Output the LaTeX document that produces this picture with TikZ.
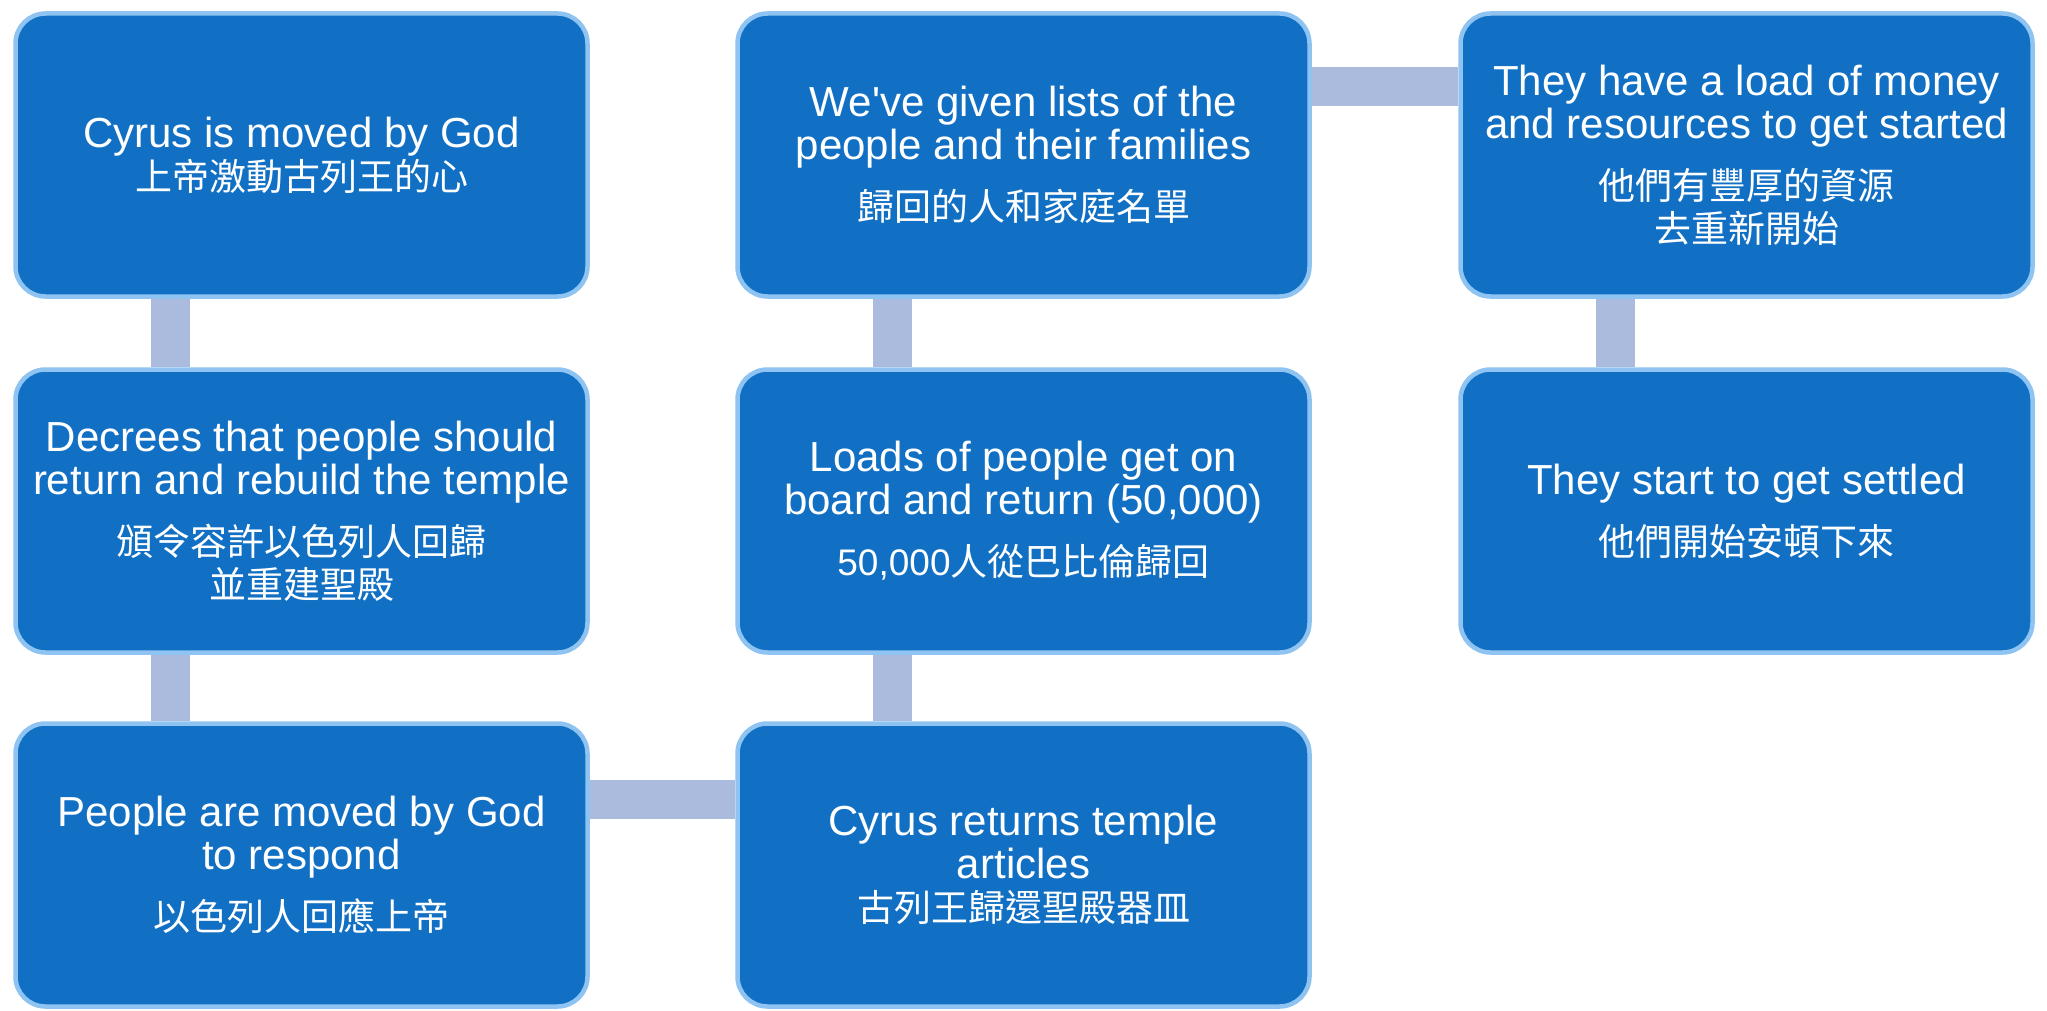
\documentclass[tikz,border=0pt]{standalone}
\usepackage{fontspec}
\setmainfont{Liberation Sans}[Ligatures=TeXOff]
\newfontfamily\cjk{Noto Sans CJK TC}
\usetikzlibrary{backgrounds}
\definecolor{boxfill}{RGB}{17,112,196}
\definecolor{boxline}{RGB}{142,195,242}
\definecolor{linkc}{RGB}{170,187,221}
\newcommand{\zh}[1]{{\fontsize{37}{43}\selectfont\cjk #1}}
\newcommand{\zhn}[1]{{\fontsize{37}{43}\selectfont #1}}
\tikzset{
  card/.style={rectangle, rounded corners=30pt, fill=boxfill, draw=boxline,
    line width=4.5pt,
    minimum width=572pt, minimum height=283pt, inner sep=0pt, align=center,
    text=white, font=\fontsize{42}{43}\selectfont},
  link/.style={draw=linkc, line width=39pt}
}
\begin{document}
\begin{tikzpicture}[x=1pt,y=1pt]
\useasboundingbox (0,0) rectangle (2047,-1011);
\node[card] (a1) at (301.5,-155) {Cyrus is moved by God\\ \zh{上帝激動古列王的心}};
\node[card] (a2) at (301.5,-511) {Decrees that people should\\ return and rebuild the temple\\[18pt] \zh{頒令容許以色列人回歸}\\ \zh{並重建聖殿}};
\node[card] (a3) at (301.5,-865) {People are moved by God\\ to respond\\[18pt] \zh{以色列人回應上帝}};
\node[card] (b1) at (1023.5,-155) {We've given lists of the\\ people and their families\\[18pt] \zh{歸回的人和家庭名單}};
\node[card] (b2) at (1023.5,-511) {Loads of people get on\\ board and return (50,000)\\[18pt] \zhn{50,000}\zh{人從巴比倫歸回}};
\node[card] (b3) at (1023.5,-865) {Cyrus returns temple\\ articles\\ \zh{古列王歸還聖殿器皿}};
\node[card] (c1) at (1746.5,-155) {They have a load of money\\ and resources to get started\\[18pt] \zh{他們有豐厚的資源}\\ \zh{去重新開始}};
\node[card] (c2) at (1746.5,-511) {They start to get settled\\[18pt] \zh{他們開始安頓下來}};
\begin{scope}[on background layer]
\draw[link] ([xshift=-131.5pt]a1.south) -- ([xshift=-131.5pt]a2.north);
\draw[link] ([xshift=-131.5pt]a2.south) -- ([xshift=-131.5pt]a3.north);
\draw[link] ([yshift=66pt]a3.east) -- ([yshift=66pt]b3.west);
\draw[link] ([xshift=-131.5pt]b3.north) -- ([xshift=-131.5pt]b2.south);
\draw[link] ([xshift=-131.5pt]b2.north) -- ([xshift=-131.5pt]b1.south);
\draw[link] ([yshift=68pt]b1.east) -- ([yshift=68pt]c1.west);
\draw[link] ([xshift=-131.5pt]c1.south) -- ([xshift=-131.5pt]c2.north);
\end{scope}
\end{tikzpicture}
\end{document}
